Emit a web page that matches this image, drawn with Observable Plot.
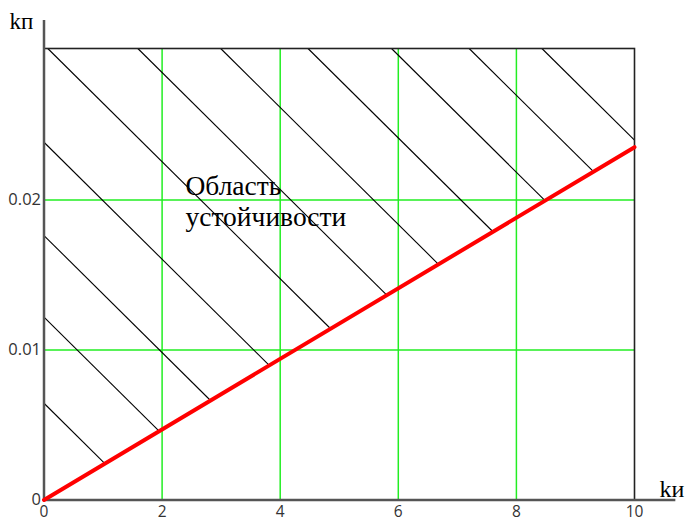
<!DOCTYPE html>
<html>
<head>
<meta charset="utf-8">
<script src="https://cdn.jsdelivr.net/npm/d3@7"></script>
<script src="https://cdn.jsdelivr.net/npm/@observablehq/plot@0.6"></script>
<style>
  html, body { margin: 0; padding: 0; background: #fff; }
  #chart svg { display: block; }
</style>
</head>
<body>
<div id="chart"></div>
<script>
// Axis ticks
const xTicks = [0, 2, 4, 6, 8, 10];
const yTicks = [0, 0.01, 0.02];

// Stability boundary (red line): kп as a function of kи
const boundaryKi = [0, 10];
const boundaryKp = [0, 0.02352];

// Hatch lines: starting points on the top border (kи values) and on the left border (kп values)
const hatchTopKi = [0.064, 1.589, 2.992, 4.471, 5.885, 7.200, 8.432];
const hatchLeftKp = [0.02385, 0.01763, 0.01219, 0.00645];
const hatchSlope = -0.0039;

// Labels
const xLabel = "kи";
const yLabel = "kп";
const regionText = "Область\nустойчивости";
const regionKi = [2.396];
const regionKp = [0.02185];

const xMax = 10, yMax = 0.0301;

// build tables
const boundary = boundaryKi.map((x, i) => ({x, y: boundaryKp[i]}));
const bSlope = (boundaryKp[1] - boundaryKp[0]) / (boundaryKi[1] - boundaryKi[0]);
const starts = [
  ...hatchTopKi.map(x => ({x0: x, y0: yMax})),
  ...hatchLeftKp.map(y => ({x0: 0, y0: y}))
];
const hatch = starts.map(({x0, y0}) => {
  const c = y0 - hatchSlope * x0;
  let x1 = c / (bSlope - hatchSlope);
  let y1 = bSlope * x1;
  if (x1 > xMax) { x1 = xMax; y1 = c + hatchSlope * xMax; }
  return {x1: x0, y1: y0, x2: x1, y2: y1};
});
const region = regionKi.map((x, i) => ({x, y: regionKp[i], t: regionText}));

const chart = Plot.plot({
  width: 688,
  height: 524,
  marginLeft: 43.5,
  marginRight: 54,
  marginTop: 48,
  marginBottom: 24.5,
  x: {domain: [0, xMax]},
  y: {domain: [0, yMax]},
  style: {fontFamily: "'Open Sans', sans-serif", fontSize: "16px", background: "#fff", overflow: "visible"},
  marks: [
    Plot.ruleX(xTicks.slice(1, -1), {stroke: "#22ee22", strokeWidth: 1.5}),
    Plot.ruleY(yTicks.slice(1), {stroke: "#22ee22", strokeWidth: 1.5}),
    Plot.link(hatch, {x1: "x1", y1: "y1", x2: "x2", y2: "y2", stroke: "#000", strokeWidth: 1.1}),
    Plot.frame({stroke: "#222", strokeWidth: 1.6}),
    Plot.ruleX([0], {y1: 0, y2: 0.03197, stroke: "#555", strokeWidth: 2.5}),
    Plot.ruleY([0], {x1: 0, x2: 10.7, stroke: "#555", strokeWidth: 2.5}),
    Plot.line(boundary, {x: "x", y: "y", stroke: "#ff0000", strokeWidth: 4}),
    Plot.axisX(xTicks, {tickSize: 0, tickPadding: 6, label: null, fill: "#333", fontSize: 15.5}),
    Plot.axisY(yTicks, {tickSize: 0, tickPadding: 3, label: null, fill: "#333", fontSize: 16.5, tickFormat: d => String(d)}),
    Plot.text(region, {x: "x", y: "y", text: "t", textAnchor: "start", lineAnchor: "top", lineHeight: 1.14,
      fontFamily: "'Liberation Serif', serif", fontSize: 27.5, fill: "#000"}),
    Plot.text([yLabel], {frameAnchor: "top-left", textAnchor: "start", lineAnchor: "bottom", dx: -34.5, dy: -20,
      fontFamily: "'Liberation Serif', serif", fontSize: 23, fill: "#000"}),
    Plot.text([xLabel], {frameAnchor: "bottom-right", textAnchor: "start", lineAnchor: "bottom", dx: 25, dy: -3,
      fontFamily: "'Liberation Serif', serif", fontSize: 24, fill: "#000"})
  ]
});
document.getElementById("chart").appendChild(chart);
</script>
</body>
</html>
